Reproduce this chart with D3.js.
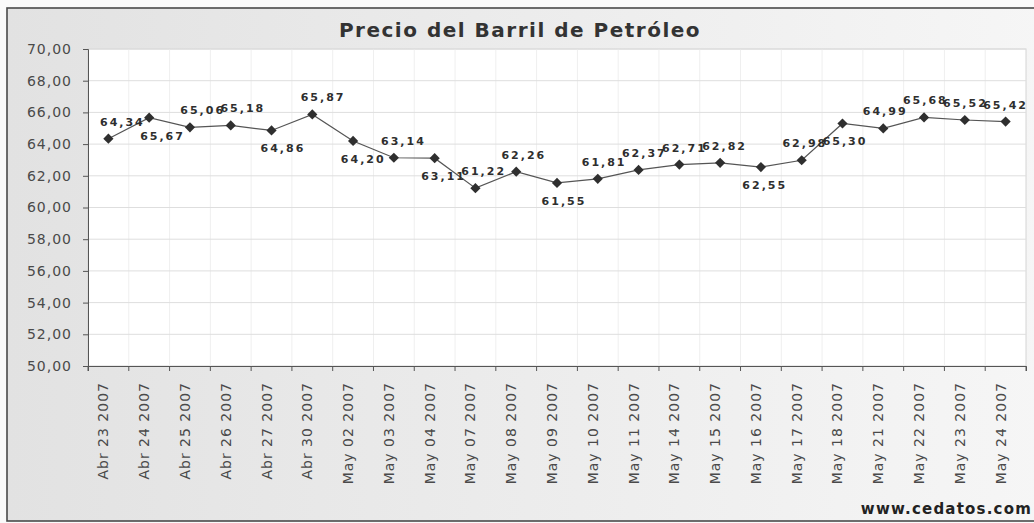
<!DOCTYPE html>
<html><head><meta charset="utf-8">
<script src="https://cdn.jsdelivr.net/npm/d3@7"></script>
<style>body{margin:0;background:#fff}</style>
</head><body>
<svg id="c" width="1034" height="523"></svg>
<script>
const titleText = "Precio del Barril de Petróleo";
const sourceText = "www.cedatos.com";
const categories = ["Abr 23 2007","Abr 24 2007","Abr 25 2007","Abr 26 2007","Abr 27 2007","Abr 30 2007",
  "May 02 2007","May 03 2007","May 04 2007","May 07 2007","May 08 2007","May 09 2007","May 10 2007",
  "May 11 2007","May 14 2007","May 15 2007","May 16 2007","May 17 2007","May 18 2007","May 21 2007",
  "May 22 2007","May 23 2007","May 24 2007"];
const prices = [64.34,65.67,65.06,65.18,64.86,65.87,64.20,63.14,63.11,61.22,62.26,61.55,61.81,
  62.37,62.71,62.82,62.55,62.98,65.30,64.99,65.68,65.52,65.42];
const yTicks = [50,52,54,56,58,60,62,64,66,68,70];
// label side: 1 = above, -1 = below
const labelSide = [1,-1,1,1,-1,1,-1,1,-1,1,1,-1,1,1,1,1,-1,1,-1,1,1,1,1];

const svg = d3.select("#c");
const fmt = v => d3.format(".2f")(v).replace(".", ",");

const defs = svg.append("defs");
const g = defs.append("linearGradient").attr("id","bg").attr("x1","0").attr("x2","1").attr("y1","0").attr("y2","0");
g.append("stop").attr("offset","0").attr("stop-color","#e2e2e2");
g.append("stop").attr("offset","1").attr("stop-color","#f6f6f6");

svg.append("rect").attr("x",0).attr("y",0).attr("width",1034).attr("height",523).attr("fill","#fafafa");
svg.append("rect").attr("x",7).attr("y",8).attr("width",1040).attr("height",513)
  .attr("fill","url(#bg)").attr("stroke","#4a4a4a").attr("stroke-width",1.6);

const x = d3.scaleBand().domain(categories).range([88,1026]);
const y = d3.scaleLinear().domain([50,70]).range([366,49]);

// plot area
svg.append("rect").attr("x",88).attr("y",49).attr("width",1026-88).attr("height",366-49)
  .attr("fill","#fff").attr("stroke","#d4d4d4");

// vertical faint grid
svg.append("g").selectAll("line").data(categories.slice(1)).join("line")
  .attr("x1",d=>x(d)).attr("x2",d=>x(d)).attr("y1",49).attr("y2",366)
  .attr("stroke","#efefef");
// horizontal grid
svg.append("g").selectAll("line").data(yTicks.slice(1)).join("line")
  .attr("x1",88).attr("x2",1026).attr("y1",d=>y(d)).attr("y2",d=>y(d))
  .attr("stroke","#dedede");

// y axis
const ya = svg.append("g").attr("transform","translate(88,0)")
  .call(d3.axisLeft(y).tickValues(yTicks).tickSize(5).tickPadding(11).tickFormat(fmt));
ya.select(".domain").attr("stroke","#555");
ya.selectAll(".tick line").attr("stroke","#555");
ya.selectAll("text").attr("font-family","DejaVu Sans").attr("font-size",14)
  .attr("letter-spacing","1px").attr("fill","#4a4a4a");

// x axis
const xa = svg.append("g").attr("transform","translate(0,366)")
  .call(d3.axisBottom(x).tickSize(5).tickFormat(""));
xa.select(".domain").attr("stroke","#555");
xa.selectAll(".tick").remove();
xa.selectAll("line.b").data(categories.concat(["_end"])).join("line").attr("class","b")
  .attr("x1",(d,i)=> i<categories.length ? x(d) : x.range()[1])
  .attr("x2",(d,i)=> i<categories.length ? x(d) : x.range()[1])
  .attr("y1",0).attr("y2",5).attr("stroke","#555");
svg.append("g").selectAll("text").data(categories).join("text")
  .attr("transform",d=>`translate(${x(d)+x.bandwidth()/2},382) rotate(-90)`)
  .attr("text-anchor","end")
  .attr("font-family","DejaVu Sans").attr("font-size",14).attr("letter-spacing","1px")
  .attr("fill","#4a4a4a").text(d=>d);

// line
const cx = (d,i)=> x(categories[i]) + x.bandwidth()/2;
svg.append("path").datum(prices)
  .attr("d", d3.line().x(cx).y(d=>y(d)))
  .attr("fill","none").attr("stroke","#555").attr("stroke-width",1.2);
svg.append("g").selectAll("path").data(prices).join("path")
  .attr("d", d3.symbol(d3.symbolSquare, 52)())
  .attr("transform",(d,i)=>`translate(${cx(d,i)},${y(d)}) rotate(45)`)
  .attr("fill","#2f2f2f");

// data labels (offset drifts from right-of-point at left to centred at right)
const n = prices.length;
svg.append("g").selectAll("text").data(prices).join("text")
  .attr("x",(d,i)=>cx(d,i) + 14*(1 - i/(n-1)))
  .attr("y",(d,i)=> y(d) + (labelSide[i]>0 ? -13 : 22))
  .attr("text-anchor","middle")
  .attr("font-family","DejaVu Sans").attr("font-weight","bold").attr("font-size",11)
  .attr("letter-spacing","2px").attr("fill","#2e2e2e").text(fmt);

// title
svg.append("text").attr("x",520).attr("y",37).attr("text-anchor","middle")
  .attr("font-family","DejaVu Sans").attr("font-weight","bold").attr("font-size",20)
  .attr("letter-spacing","1.5px").attr("fill","#333").text(titleText);

// source
svg.append("text").attr("x",1032).attr("y",514).attr("text-anchor","end")
  .attr("font-family","DejaVu Sans").attr("font-weight","bold").attr("font-size",15)
  .attr("letter-spacing","1.2px").attr("fill","#222").text(sourceText);
</script>
</body></html>
